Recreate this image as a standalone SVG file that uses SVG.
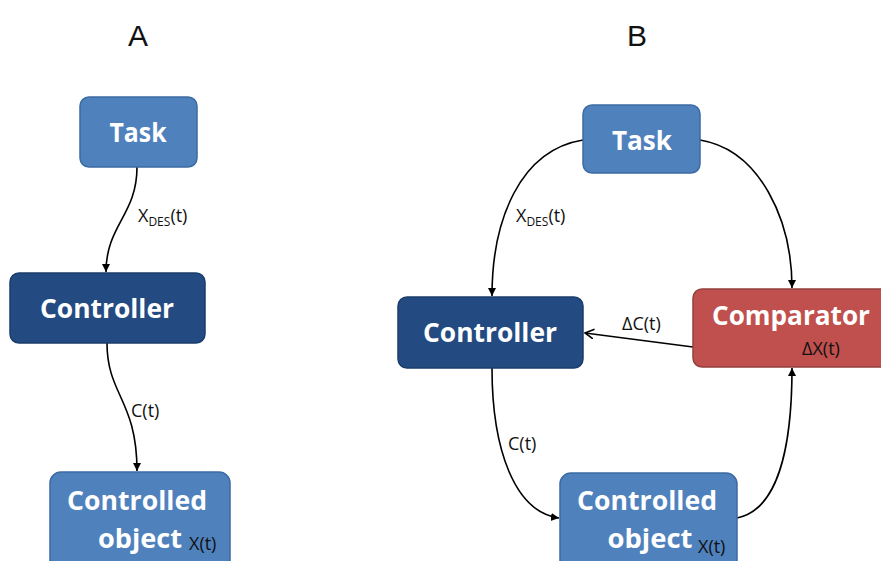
<svg xmlns="http://www.w3.org/2000/svg" width="881" height="561" viewBox="0 0 881 561">
<defs>
<style>
.lt{fill:#4f81bd;stroke:#3b6ba3;stroke-width:1.5}
.dk{fill:#234b82;stroke:#1b3d6c;stroke-width:1.5}
.rd{fill:#c0504d;stroke:#94403c;stroke-width:1.5}
.bt{font-family:"Open Sans","Liberation Sans",sans-serif;font-weight:bold;font-size:27px;fill:#fff;text-anchor:middle}
.lb{font-family:"Open Sans","Liberation Sans",sans-serif;font-size:18px;fill:#111}
.ttl{font-family:"Liberation Sans",sans-serif;font-size:30px;fill:#111;text-anchor:middle}
.sub{font-size:12px}
.c{fill:none;stroke:#000;stroke-width:1.6}
</style>
<marker id="ah" markerWidth="10" markerHeight="10" refX="8" refY="4" orient="auto" markerUnits="userSpaceOnUse">
<path d="M0,0 L8,4 L0,8 Z" fill="#000"/>
</marker>
<marker id="av" markerWidth="12" markerHeight="12" refX="9" refY="5" orient="auto" markerUnits="userSpaceOnUse">
<path d="M0,0 L9,5 L0,10" fill="none" stroke="#000" stroke-width="1.6"/>
</marker>
</defs>
<rect width="881" height="561" fill="#fff"/>
<text class="ttl" x="138" y="46">A</text>
<text class="ttl" x="637" y="46">B</text>

<g id="connectors">
<path class="c" d="M137,167 C137,215 106,225 106,272" marker-end="url(#ah)"/>
<path class="c" d="M107,343 C107,395 137,400 137,471" marker-end="url(#ah)"/>
<path class="c" d="M583,140 C520,150 492,220 492,296" marker-end="url(#ah)"/>
<path class="c" d="M700,140 C760,150 792,220 792,288" marker-end="url(#ah)"/>
<path class="c" d="M693,347 L585,333" marker-end="url(#av)"/>
<path class="c" d="M492,368 C492,450 515,512 559,518" marker-end="url(#ah)"/>
<path class="c" d="M737,518 C777,510 792,450 792,368" marker-end="url(#ah)"/>
</g>

<g id="labels">
<text class="lb" x="138" y="222">X<tspan class="sub" dy="4">DES</tspan><tspan dy="-4">(t)</tspan></text>
<text class="lb" x="131" y="417">C(t)</text>
<text class="lb" x="516" y="222">X<tspan class="sub" dy="4">DES</tspan><tspan dy="-4">(t)</tspan></text>
<text class="lb" x="622" y="330">ΔC(t)</text>
<text class="lb" x="508" y="450">C(t)</text>
</g>

<g id="taskA">
<rect class="lt" x="80" y="97" width="117" height="70" rx="9"/>
<text class="bt" x="138" y="142" textLength="57" lengthAdjust="spacingAndGlyphs">Task</text>
</g>
<g id="controllerA">
<rect class="dk" x="10" y="273" width="195" height="70" rx="9"/>
<text class="bt" x="107" y="318" textLength="134" lengthAdjust="spacingAndGlyphs">Controller</text>
</g>
<g id="objectA">
<rect class="lt" x="50" y="472" width="180" height="100" rx="11"/>
<text class="bt" x="137" y="510" textLength="140" lengthAdjust="spacingAndGlyphs">Controlled</text>
<text class="bt" x="140" y="548" textLength="84" lengthAdjust="spacingAndGlyphs">object</text>
<text class="lb" x="189" y="550">X(t)</text>
</g>

<g id="taskB">
<rect class="lt" x="583" y="105" width="117" height="68" rx="9"/>
<text class="bt" x="642" y="150" textLength="60" lengthAdjust="spacingAndGlyphs">Task</text>
</g>
<g id="controllerB">
<rect class="dk" x="398" y="297" width="185" height="71" rx="9"/>
<text class="bt" x="490" y="342" textLength="134" lengthAdjust="spacingAndGlyphs">Controller</text>
</g>
<g id="comparator">
<rect class="rd" x="693" y="289" width="200" height="78" rx="9"/>
<text class="bt" x="791" y="325" textLength="158" lengthAdjust="spacingAndGlyphs">Comparator</text>
<text class="lb" x="802" y="355">ΔX(t)</text>
</g>
<g id="objectB">
<rect class="lt" x="560" y="473" width="177" height="100" rx="11"/>
<text class="bt" x="647" y="510" textLength="140" lengthAdjust="spacingAndGlyphs">Controlled</text>
<text class="bt" x="650" y="548" textLength="85" lengthAdjust="spacingAndGlyphs">object</text>
<text class="lb" x="698" y="553">X(t)</text>
</g>
</svg>
